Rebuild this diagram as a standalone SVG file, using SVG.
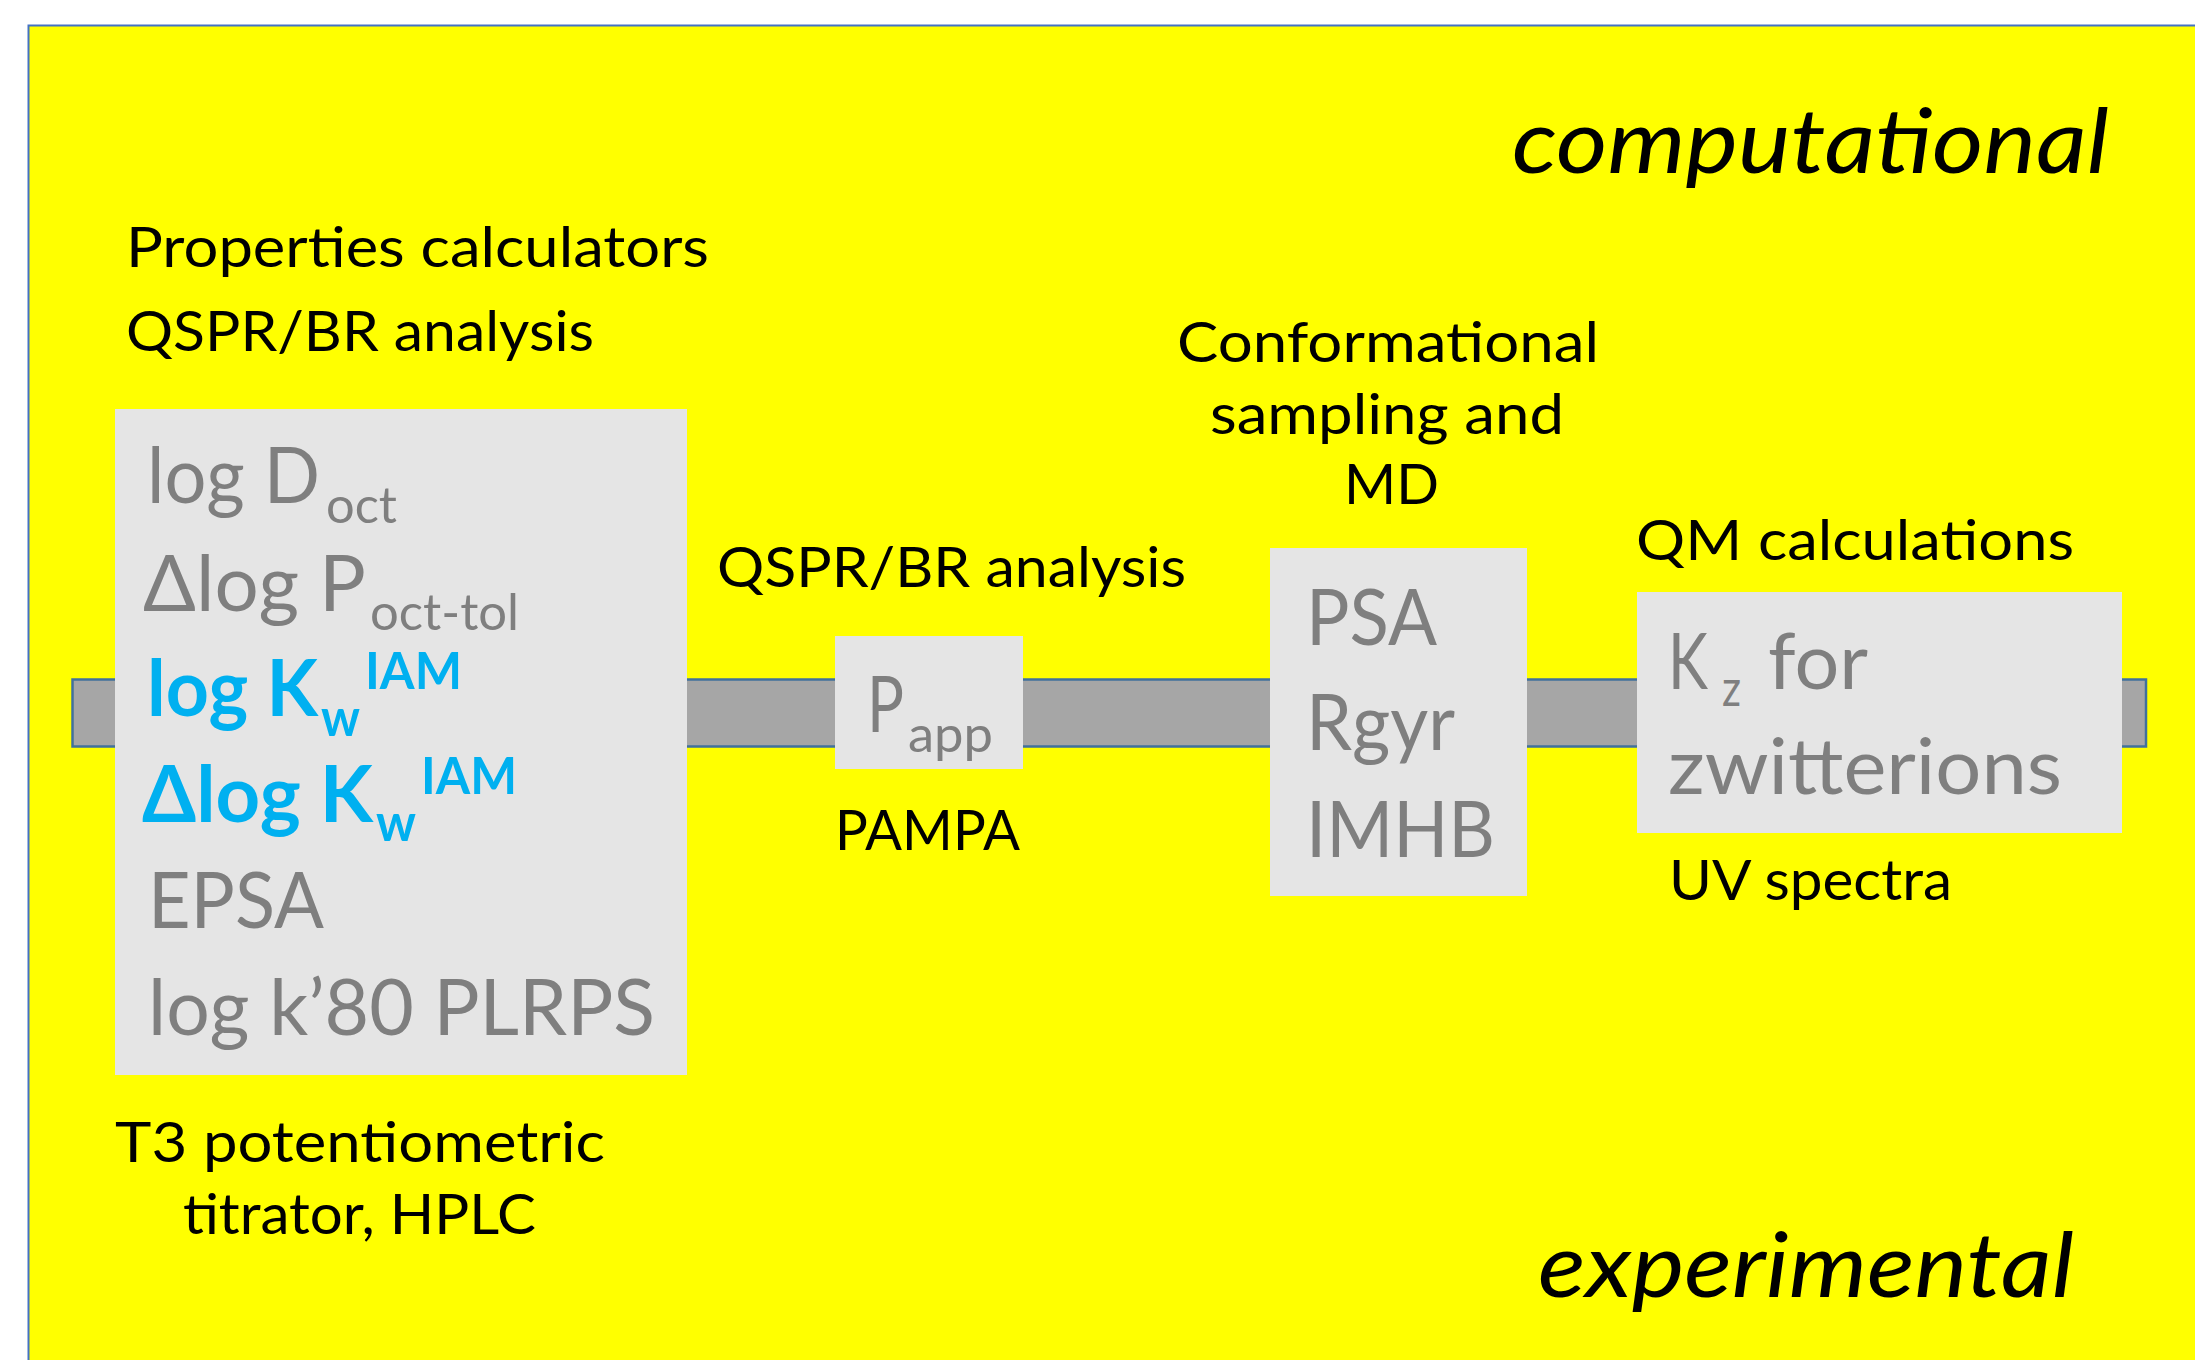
<svg xmlns="http://www.w3.org/2000/svg" width="2195" height="1360" viewBox="0 0 2195 1360">
<style>
  text { font-family: Lato, "Open Sans", "Liberation Sans", sans-serif; }
  .lbl { font-size: 56px; fill: #000000; }
  .it { font-size: 90px; font-style: italic; fill: #000000; }
  .big { font-size: 78px; fill: #7F7F7F; }
  .sub { font-size: 51px; }
  .bb { font-size: 78px; font-weight: bold; fill: #00B0F0; }
  .box { fill: #E5E5E5; }
</style>
<rect x="28.5" y="25.5" width="2200" height="1400" fill="#FFFF00" stroke="#4472C4" stroke-width="2"/>
<g id="axis-bar">
  <rect x="72.5" y="679.5" width="2073.5" height="67" fill="#A6A6A6" stroke="#41719C" stroke-width="2.5"/>
</g>
<g id="headers">
  <text class="it" x="1512" y="173" textLength="597" lengthAdjust="spacingAndGlyphs">computational</text>
  <text class="it" x="1538" y="1297" textLength="536" lengthAdjust="spacingAndGlyphs">experimental</text>
</g>
<g id="node-left">
  <rect class="box" x="115" y="409" width="572" height="666"/>
  <text class="lbl" x="126" y="267" textLength="583" lengthAdjust="spacingAndGlyphs">Properties calculators</text>
  <text class="lbl" x="126" y="351" textLength="468" lengthAdjust="spacingAndGlyphs">QSPR/BR analysis</text>
  <text class="big"><tspan x="147" y="503" textLength="173" lengthAdjust="spacingAndGlyphs">log D</tspan><tspan class="sub" x="326" y="523" textLength="71" lengthAdjust="spacingAndGlyphs">oct</tspan></text>
  <text class="big"><tspan x="143" y="611" textLength="223" lengthAdjust="spacingAndGlyphs">Δlog P</tspan><tspan class="sub" x="370" y="630" textLength="149" lengthAdjust="spacingAndGlyphs">oct-tol</tspan></text>
  <text class="bb"><tspan x="147" y="716" textLength="171" lengthAdjust="spacingAndGlyphs">log K</tspan><tspan class="sub" x="321" y="736" textLength="39" lengthAdjust="spacingAndGlyphs">w</tspan><tspan class="sub" x="365" y="689" textLength="97" lengthAdjust="spacingAndGlyphs">IAM</tspan></text>
  <text class="bb"><tspan x="142" y="822" textLength="231" lengthAdjust="spacingAndGlyphs">Δlog K</tspan><tspan class="sub" x="376" y="841" textLength="40" lengthAdjust="spacingAndGlyphs">w</tspan><tspan class="sub" x="421" y="794" textLength="96" lengthAdjust="spacingAndGlyphs">IAM</tspan></text>
  <text class="big" x="148" y="928" textLength="176" lengthAdjust="spacingAndGlyphs">EPSA</text>
  <text class="big" x="148" y="1035" textLength="507" lengthAdjust="spacingAndGlyphs">log k’80 PLRPS</text>
  <text class="lbl" x="115" y="1162" textLength="490" lengthAdjust="spacingAndGlyphs">T3 potentiometric</text>
  <text class="lbl" x="183" y="1234" textLength="353" lengthAdjust="spacingAndGlyphs">titrator, HPLC</text>
</g>
<g id="node-papp">
  <rect class="box" x="835" y="636" width="188" height="133"/>
  <text class="lbl" x="717" y="587" textLength="469" lengthAdjust="spacingAndGlyphs">QSPR/BR analysis</text>
  <text class="big"><tspan x="867" y="732" textLength="37" lengthAdjust="spacingAndGlyphs">P</tspan><tspan class="sub" x="908" y="752" textLength="85" lengthAdjust="spacingAndGlyphs">app</tspan></text>
  <text class="lbl" x="835" y="850" textLength="185" lengthAdjust="spacingAndGlyphs">PAMPA</text>
</g>
<g id="node-psa">
  <rect class="box" x="1270" y="548" width="257" height="348"/>
  <text class="lbl" x="1177" y="362" textLength="422" lengthAdjust="spacingAndGlyphs">Conformational</text>
  <text class="lbl" x="1210" y="434" textLength="354" lengthAdjust="spacingAndGlyphs">sampling and</text>
  <text class="lbl" x="1344" y="504" textLength="95" lengthAdjust="spacingAndGlyphs">MD</text>
  <text class="big" x="1306" y="645" textLength="131" lengthAdjust="spacingAndGlyphs">PSA</text>
  <text class="big" x="1306" y="750" textLength="149" lengthAdjust="spacingAndGlyphs">Rgyr</text>
  <text class="big" x="1306" y="857" textLength="189" lengthAdjust="spacingAndGlyphs">IMHB</text>
</g>
<g id="node-kz">
  <rect class="box" x="1637" y="592" width="485" height="241"/>
  <text class="lbl" x="1636" y="560" textLength="438" lengthAdjust="spacingAndGlyphs">QM calculations</text>
  <text class="big"><tspan x="1668" y="689" textLength="40" lengthAdjust="spacingAndGlyphs">K</tspan><tspan class="sub" x="1722" y="706" textLength="19" lengthAdjust="spacingAndGlyphs">z</tspan><tspan x="1768" y="689" textLength="100" lengthAdjust="spacingAndGlyphs">for</tspan></text>
  <text class="big" x="1668" y="794" textLength="394" lengthAdjust="spacingAndGlyphs">zwitterions</text>
  <text class="lbl" x="1669" y="900" textLength="283" lengthAdjust="spacingAndGlyphs">UV spectra</text>
</g>
</svg>
